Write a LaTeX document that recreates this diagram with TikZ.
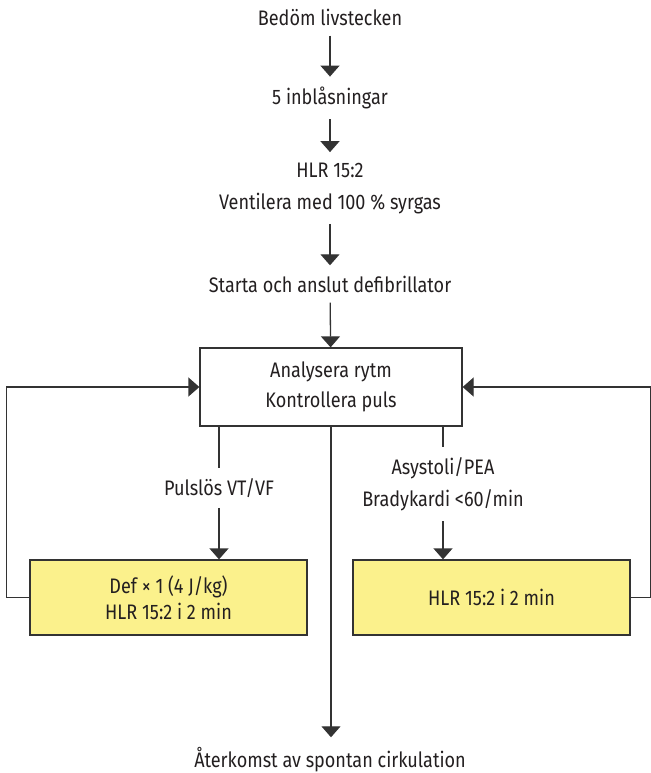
\documentclass[tikz,border=0pt]{standalone}
\usepackage{fontspec}
\setmainfont{Fira Sans}[FakeStretch=0.86]
\usetikzlibrary{arrows.meta}

\definecolor{boxyellow}{RGB}{251,241,140}
\definecolor{linegray}{RGB}{51,51,51}
\definecolor{inkdark}{RGB}{35,31,32}

\begin{document}
\begin{tikzpicture}[x=0.5pt,y=-0.5pt,
    steptext/.style={
      align=center,
      inner xsep=2pt,
      inner ysep=5pt,
      text=inkdark,
      font=\fontsize{10.5}{16}\selectfont,
    },
    whitebox/.style={
      steptext,
      draw=linegray,
      line width=0.65pt,
      minimum width=131pt,
      minimum height=39pt,
      font=\fontsize{10.5}{15}\selectfont,
    },
    yellowbox/.style={
      steptext,
      draw=linegray,
      fill=boxyellow,
      line width=0.65pt,
      minimum width=138.5pt,
      minimum height=37.5pt,
      font=\fontsize{10.5}{13}\selectfont,
    },
    conn/.style={
      draw=linegray,
      line width=0.65pt,
    },
    arrowconn/.style={
      conn,
      -{Triangle[width=9.5pt,length=5.5pt]},
    },
  ]
    \useasboundingbox (0,0) rectangle (651,773);

    % steps down the middle
    \node[steptext] (bedom) at (330,17) {Bedöm livstecken};
    \node[steptext] (inblas) at (330,98) {5 inblåsningar};
    \node[steptext] (hlr) at (330,188) {HLR 15:2\\Ventilera med 100 \% syrgas};
    \node[steptext] (starta) at (330,284) {Starta och anslut defibrillator};
    \node[whitebox] (analys) at (331,387) {Analysera rytm\\Kontrollera puls};

    % the two branches
    \node[steptext] (vtvf) at (219,488) {Pulslös VT/VF};
    \node[steptext] (asys) at (443,484) {Asystoli/PEA\\Bradykardi <60/min};
    \node[yellowbox] (defbox) at (168.5,597.5) {Def × 1 (4 J/kg)\\HLR 15:2 i 2 min};
    \node[yellowbox] (hlrbox) at (491.5,597.5) {HLR 15:2 i 2 min};

    \node[steptext] (ater) at (330,760) {Återkomst av spontan cirkulation};

    \draw[arrowconn] (bedom) -- (inblas);
    \draw[arrowconn] (inblas) -- (hlr);
    \draw[arrowconn] (hlr) -- (starta);
    \draw[arrowconn] (starta) -- (analys);

    \draw[conn] (analys.south -| vtvf.north) -- (vtvf.north);
    \draw[arrowconn] (vtvf.south) -- (defbox.north -| vtvf.south);
    \draw[conn] (analys.south -| asys.north) -- (asys.north);
    \draw[arrowconn] (asys.south) -- (hlrbox.north -| asys.south);

    \draw[arrowconn] (analys.south) -- (ater.north -| analys.south);

    % loops back to the analysis
    \draw[arrowconn] (defbox.west) -- ++(-23,0) |- (analys.west);
    \draw[arrowconn] (hlrbox.east) -- ++(20,0) |- (analys.east);

\end{tikzpicture}
\end{document}
